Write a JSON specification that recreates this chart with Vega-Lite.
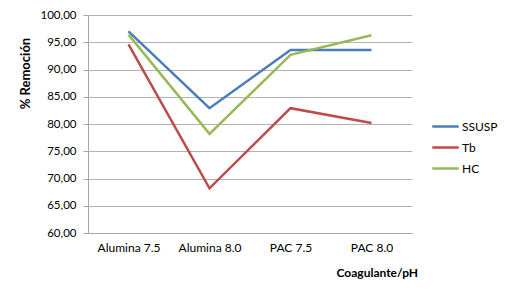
{
  "$schema": "https://vega.github.io/schema/vega-lite/v6.json",
  "width": 324,
  "height": 218,
  "autosize": {"type": "none"},
  "padding": {"left": 88, "top": 15, "right": 97, "bottom": 63},
  "background": "white",
  "config": {
    "locale": {"number": {"decimal": ",", "thousands": ".", "grouping": [3], "currency": ["", ""]}},
    "font": "Lato",
    "view": {"stroke": null}
  },
  "data": {
    "values": [
      {"cat": "Alumina 7.5", "serie": "SSUSP", "v": 97.0},
      {"cat": "Alumina 8.0", "serie": "SSUSP", "v": 82.9},
      {"cat": "PAC 7.5", "serie": "SSUSP", "v": 93.6},
      {"cat": "PAC 8.0", "serie": "SSUSP", "v": 93.6},
      {"cat": "Alumina 7.5", "serie": "Tb", "v": 94.6},
      {"cat": "Alumina 8.0", "serie": "Tb", "v": 68.2},
      {"cat": "PAC 7.5", "serie": "Tb", "v": 82.9},
      {"cat": "PAC 8.0", "serie": "Tb", "v": 80.2},
      {"cat": "Alumina 7.5", "serie": "HC", "v": 96.4},
      {"cat": "Alumina 8.0", "serie": "HC", "v": 78.2},
      {"cat": "PAC 7.5", "serie": "HC", "v": 92.7},
      {"cat": "PAC 8.0", "serie": "HC", "v": 96.3}
    ]
  },
  "mark": {"type": "line", "strokeWidth": 2.5},
  "encoding": {
    "x": {
      "field": "cat", "type": "nominal", "sort": null,
      "scale": {"type": "point", "padding": 0.5},
      "axis": {
        "title": "Coagulante/pH", "titleFontSize": 12, "titleFontWeight": "bold",
        "titleColor": "#000", "titleX": 248, "titleY": 34, "titleAnchor": "start", "titleAlign": "left",
        "labelAngle": 0, "labelFontSize": 12, "labelColor": "#000", "labelPadding": 9,
        "ticks": false, "domainColor": "#a6a6a6", "grid": false
      }
    },
    "y": {
      "field": "v", "type": "quantitative",
      "scale": {"domain": [60, 100], "nice": false, "zero": false},
      "axis": {
        "title": "% Remoción", "titleFontSize": 13, "titleFontWeight": "bold", "titleColor": "#000",
        "titleX": -56, "titleY": 58, "titleAlign": "center",
        "values": [60, 65, 70, 75, 80, 85, 90, 95, 100], "format": ".2f",
        "labelFontSize": 11.5, "labelColor": "#000", "labelPadding": 7,
        "tickSize": 5, "tickColor": "#a6a6a6", "domainColor": "#a6a6a6",
        "gridColor": "#b3b3b3", "gridWidth": 1
      }
    },
    "color": {
      "field": "serie", "type": "nominal", "sort": ["SSUSP", "Tb", "HC"],
      "scale": {"domain": ["SSUSP", "Tb", "HC"], "range": ["#4a7ebb", "#be4b48", "#98b954"]},
      "legend": {
        "title": null, "orient": "none", "legendX": 343, "legendY": 97,
        "symbolType": "stroke", "symbolSize": 700, "symbolStrokeWidth": 2.5,
        "labelFontSize": 12, "labelColor": "#000", "labelOffset": 2, "rowPadding": 0
      }
    }
  }
}
